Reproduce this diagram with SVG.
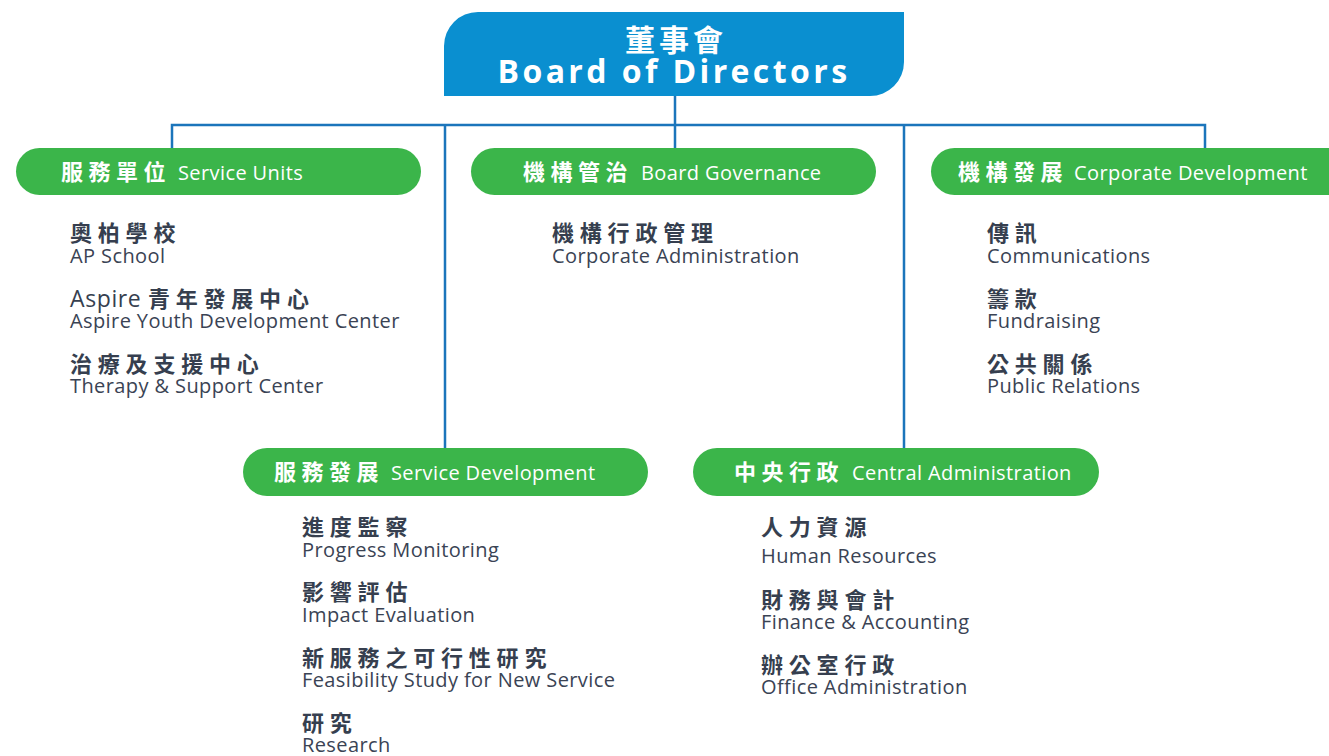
<svg xmlns="http://www.w3.org/2000/svg" width="1329" height="756" viewBox="0 0 1329 756">
<style>
.pill{fill:#3bb54a}
.hz{font-family:"Noto Sans CJK TC","Noto Sans",sans-serif;font-weight:700;font-size:22px;fill:#ffffff;letter-spacing:5.5px}
.he{font-family:"Open Sans","Noto Sans",sans-serif;font-weight:400;font-size:20px;fill:#ffffff;letter-spacing:0.4px}
.iz{font-family:"Noto Sans CJK TC","Noto Sans",sans-serif;font-weight:700;font-size:22px;fill:#363f4f;letter-spacing:5.8px}
.ie{font-family:"Open Sans","Noto Sans",sans-serif;font-weight:400;font-size:20px;fill:#3a4354;letter-spacing:0.4px}
.ia{font-family:"Open Sans","Noto Sans",sans-serif;font-weight:400;font-size:23px;letter-spacing:0.6px}
.line{fill:none;stroke:#1b75bb;stroke-width:2.5}
</style>
<rect width="1329" height="756" fill="#ffffff"/>
<g id="connectors">
<path class="line" d="M675,96 V148 M172,148 V125 H1205 V148 M445,125 V448 M904,125 V448"/>
</g>
<g id="board">
<path d="M444,12 H904 V62 A34,34 0 0 1 870,96 H444 V46 A34,34 0 0 1 478,12 Z" fill="#0a8fd0"/>
<text x="676" y="51" text-anchor="middle" font-family="Noto Sans CJK TC,sans-serif" font-weight="700" font-size="30" fill="#ffffff" letter-spacing="4">董事會</text>
<text x="674" y="83" text-anchor="middle" font-family="Open Sans,Noto Sans,sans-serif" font-weight="700" font-size="32" fill="#ffffff" letter-spacing="3.4">Board of Directors</text>
</g>
<g id="service-units">
<rect class="pill" x="16" y="148" width="405" height="47" rx="23.5"/>
<text x="61" y="180"><tspan class="hz">服務單位</tspan><tspan class="he" x="178">Service Units</tspan></text>
<text class="iz" x="70" y="241">奧柏學校</text>
<text class="ie" x="70" y="263">AP School</text>
<text class="iz" x="70" y="307"><tspan class="ia">Aspire </tspan>青年發展中心</text>
<text class="ie" x="70" y="328">Aspire Youth Development Center</text>
<text class="iz" x="70" y="372">治療及支援中心</text>
<text class="ie" x="70" y="393">Therapy &amp; Support Center</text>
</g>
<g id="board-governance">
<rect class="pill" x="471" y="148" width="405" height="47" rx="23.5"/>
<text x="523" y="180"><tspan class="hz">機構管治</tspan><tspan class="he" x="641">Board Governance</tspan></text>
<text class="iz" x="552" y="241">機構行政管理</text>
<text class="ie" x="552" y="263">Corporate Administration</text>
</g>
<g id="corporate-development">
<rect class="pill" x="931" y="148" width="420" height="47" rx="23.5"/>
<text x="958" y="180"><tspan class="hz">機構發展</tspan><tspan class="he" x="1074">Corporate Development</tspan></text>
<text class="iz" x="987" y="241">傳訊</text>
<text class="ie" x="987" y="263">Communications</text>
<text class="iz" x="987" y="307">籌款</text>
<text class="ie" x="987" y="328">Fundraising</text>
<text class="iz" x="987" y="372">公共關係</text>
<text class="ie" x="987" y="393">Public Relations</text>
</g>
<g id="service-development">
<rect class="pill" x="243" y="448" width="405" height="48" rx="24"/>
<text x="274" y="480"><tspan class="hz">服務發展</tspan><tspan class="he" x="391">Service Development</tspan></text>
<text class="iz" x="302" y="535">進度監察</text>
<text class="ie" x="302" y="557">Progress Monitoring</text>
<text class="iz" x="302" y="600">影響評估</text>
<text class="ie" x="302" y="622">Impact Evaluation</text>
<text class="iz" x="302" y="666">新服務之可行性研究</text>
<text class="ie" x="302" y="687">Feasibility Study for New Service</text>
<text class="iz" x="302" y="731">研究</text>
<text class="ie" x="302" y="752">Research</text>
</g>
<g id="central-administration">
<rect class="pill" x="693" y="448" width="406" height="48" rx="24"/>
<text x="734" y="480"><tspan class="hz">中央行政</tspan><tspan class="he" x="852">Central Administration</tspan></text>
<text class="iz" x="761" y="535">人力資源</text>
<text class="ie" x="761" y="563">Human Resources</text>
<text class="iz" x="761" y="608">財務與會計</text>
<text class="ie" x="761" y="629">Finance &amp; Accounting</text>
<text class="iz" x="761" y="673">辦公室行政</text>
<text class="ie" x="761" y="694">Office Administration</text>
</g>
</svg>
